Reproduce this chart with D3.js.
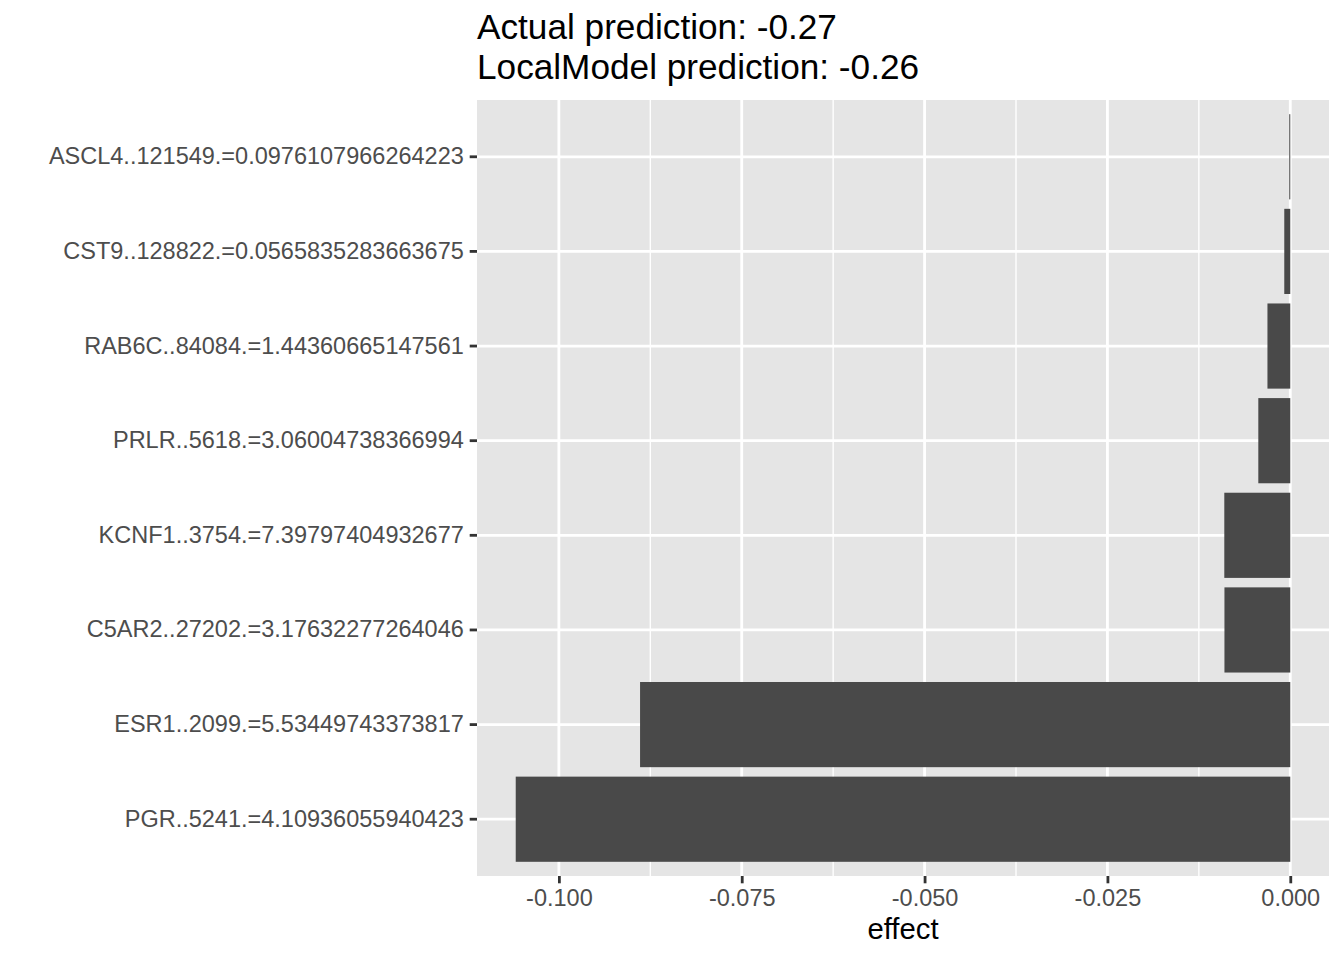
<!DOCTYPE html>
<html>
<head>
<meta charset="utf-8">
<script src="https://cdn.jsdelivr.net/npm/d3@7"></script>
<style>
  html, body { margin: 0; padding: 0; background: #fff; }
  svg { display: block; font-family: "Liberation Sans", Arial, Helvetica, sans-serif; }
</style>
</head>
<body>
<svg id="chart" width="1344" height="960"></svg>
<script>
// Data (top to bottom as displayed)
const categories = [
  "ASCL4..121549.=0.0976107966264223",
  "CST9..128822.=0.0565835283663675",
  "RAB6C..84084.=1.44360665147561",
  "PRLR..5618.=3.06004738366994",
  "KCNF1..3754.=7.39797404932677",
  "C5AR2..27202.=3.17632277264046",
  "ESR1..2099.=5.53449743373817",
  "PGR..5241.=4.10936055940423"
];
const effects = [-0.00014, -0.00082, -0.00312, -0.00437, -0.00902, -0.00900, -0.08890, -0.10590];
const xTicks = [-0.100, -0.075, -0.050, -0.025, 0.000];
const xMinor = [-0.0875, -0.0625, -0.0375, -0.0125];
const titleLines = ["Actual prediction: -0.27", "LocalModel prediction: -0.26"];
const xLabel = "effect";

const svg = d3.select("#chart");
const panel = { left: 477, right: 1329, top: 100, bottom: 876 };

const dmin = Math.min(0, d3.min(effects)), dmax = Math.max(0, d3.max(effects));
const ex = (dmax - dmin) * 0.05;
const x = d3.scaleLinear().domain([dmin - ex, dmax + ex]).range([panel.left, panel.right]);
const y = d3.scaleBand().domain(categories).range([panel.top, panel.bottom])
  .paddingInner(0.1).paddingOuter(0.15).align(0.5);

// panel background
svg.append("rect")
  .attr("x", panel.left).attr("y", panel.top)
  .attr("width", panel.right - panel.left).attr("height", panel.bottom - panel.top)
  .attr("fill", "#e5e5e5");

// minor gridlines
svg.append("g").selectAll("line").data(xMinor).join("line")
  .attr("x1", d => x(d)).attr("x2", d => x(d))
  .attr("y1", panel.top).attr("y2", panel.bottom)
  .attr("stroke", "#fff").attr("stroke-width", 1.4);

// major gridlines
svg.append("g").selectAll("line").data(xTicks).join("line")
  .attr("x1", d => x(d)).attr("x2", d => x(d))
  .attr("y1", panel.top).attr("y2", panel.bottom)
  .attr("stroke", "#fff").attr("stroke-width", 2.8);
svg.append("g").selectAll("line").data(categories).join("line")
  .attr("x1", panel.left).attr("x2", panel.right)
  .attr("y1", d => y(d) + y.bandwidth() / 2).attr("y2", d => y(d) + y.bandwidth() / 2)
  .attr("stroke", "#fff").attr("stroke-width", 2.8);

// bars
svg.append("g").selectAll("rect").data(categories).join("rect")
  .attr("x", (d, i) => Math.min(x(effects[i]), x(0)))
  .attr("width", (d, i) => Math.abs(x(effects[i]) - x(0)))
  .attr("y", d => y(d))
  .attr("height", y.bandwidth())
  .attr("fill", "#494949");

// axes
const fmt = d3.format(".3f");
const xAxis = d3.axisBottom(x).tickValues(xTicks)
  .tickFormat(d => fmt(d).replace("\u2212", "-"))
  .tickSize(7.3).tickPadding(5.9);
const gx = svg.append("g").attr("transform", `translate(0,${panel.bottom})`).call(xAxis);
gx.select(".domain").remove();
gx.selectAll(".tick line").attr("stroke", "#333").attr("stroke-width", 2.8);
gx.selectAll(".tick text").attr("fill", "#4d4d4d").style("font-size", "23.5px")
  .style("font-family", "'Liberation Sans', Arial, sans-serif");

const yAxis = d3.axisLeft(y).tickSize(7.3).tickPadding(5.9);
const gy = svg.append("g").attr("transform", `translate(${panel.left},0)`).call(yAxis);
gy.select(".domain").remove();
gy.selectAll(".tick line").attr("stroke", "#333").attr("stroke-width", 2.8);
gy.selectAll(".tick text").attr("fill", "#4d4d4d").style("font-size", "23.5px")
  .style("font-family", "'Liberation Sans', Arial, sans-serif");

// axis title
svg.append("text")
  .attr("x", (panel.left + panel.right) / 2).attr("y", 939)
  .attr("text-anchor", "middle").attr("fill", "#000")
  .style("font-size", "29.3px").text(xLabel);

// title
svg.append("g").selectAll("text").data(titleLines).join("text")
  .attr("x", panel.left).attr("y", (d, i) => 39 + i * 39.5)
  .attr("fill", "#000").style("font-size", "35.2px").text(d => d);
</script>
</body>
</html>
